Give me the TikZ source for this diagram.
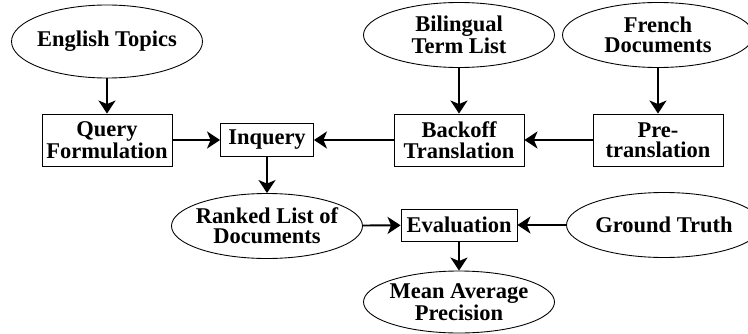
\documentclass[tikz,border=0pt]{standalone}
\usepackage{fontspec}
\setmainfont{Liberation Serif}
\usetikzlibrary{shapes.geometric,arrows.meta}

\begin{document}
\begin{tikzpicture}[font=\bfseries\fontsize{12.8}{11.6}\selectfont,line width=0.5pt,
        blob/.style={draw,ellipse,inner xsep=-4pt,inner ysep=0pt,align=center,minimum width=3.82cm,minimum height=1.3cm},
        box/.style={draw,rectangle,inner sep=0pt,align=center,minimum width=2.6cm,minimum height=1.04cm},
        arr/.style={-{Stealth[length=2.6mm,width=3.4mm,inset=0.7mm]},line width=1.1pt}]

    \useasboundingbox (0,0) rectangle (14.96,6.66);

    \node[blob,minimum height=1.46cm] (topics) at (2.14,5.83) {English Topics};
    \node[blob] (terms) at (9.18,5.96) {Bilingual\\Term List};
    \node[blob] (french) at (13.16,5.96) {French\\Documents};

    \node[box] (query) at (2.14,3.86) {Query\\Formulation};
    \node[box,minimum width=1.86cm,minimum height=0.66cm] (inquery) at (5.34,3.86) {Inquery};
    \node[box] (backoff) at (9.18,3.86) {Backoff\\Translation};
    \node[box] (pretrans) at (13.16,3.86) {Pre-\\translation};

    \node[blob] (ranked) at (5.34,2.14) {Ranked List of\\Documents};
    \node[box,minimum width=2.32cm,minimum height=0.64cm] (eval) at (9.18,2.16) {Evaluation};
    \node[blob,minimum width=3.9cm] (truth) at (13.28,2.16) {Ground Truth};
    \node[blob,minimum height=1.24cm] (map) at (9.18,0.62) {Mean Average\\Precision};

    \draw[arr] (topics) -- (query);
    \draw[arr] (terms) -- (backoff);
    \draw[arr] (french) -- (pretrans);
    \draw[arr] (query) -- (inquery);
    \draw[arr] (pretrans) -- (backoff);
    \draw[arr] (backoff) -- (inquery);
    \draw[arr] (inquery) -- (ranked);
    \draw[arr] (ranked) -- (eval);
    \draw[arr] (truth) -- (eval);
    \draw[arr] (eval) -- (map); % final measure
\end{tikzpicture}
\end{document}
